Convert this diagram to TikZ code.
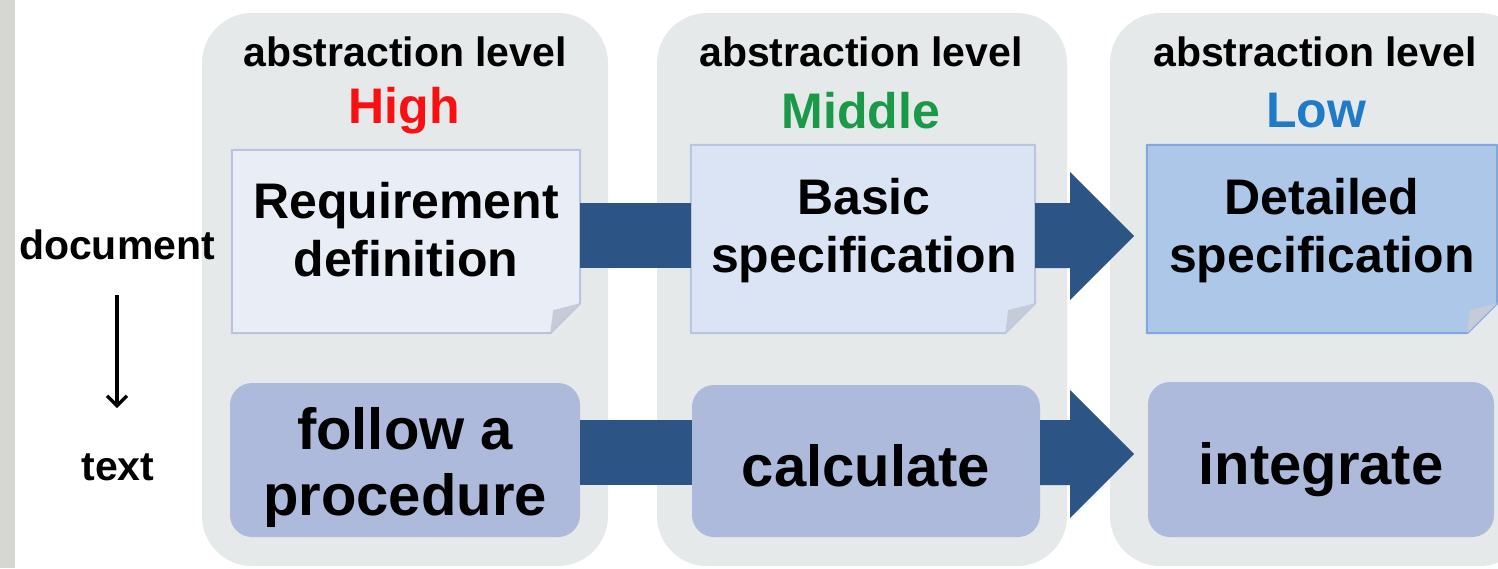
\documentclass[tikz,border=0pt]{standalone}
\usepackage{fontspec}
\setmainfont{Liberation Sans}
\usetikzlibrary{calc,arrows.meta}
\definecolor{stripc}{HTML}{D6D6D2}
\definecolor{panelc}{HTML}{E6E9EA}
\definecolor{docAfill}{HTML}{E9EDF6}
\definecolor{docAline}{HTML}{B9C3E0}
\definecolor{docBfill}{HTML}{DAE4F4}
\definecolor{docBline}{HTML}{B9C6DD}
\definecolor{docCfill}{HTML}{ADC7E8}
\definecolor{docCline}{HTML}{7FA8DC}
\definecolor{foldc}{HTML}{C5CCD8}
\definecolor{taskc}{HTML}{AEBADC}
\definecolor{barc}{HTML}{2C5585}
\definecolor{highc}{HTML}{FA1010}
\definecolor{midc}{HTML}{1A9A48}
\definecolor{lowc}{HTML}{1F7BC8}
\newcommand\mydocshape[3]{%
  \filldraw[fill=#2,draw=#3,line width=2pt,line join=round]
    (#1.north west) -- (#1.north east) -- ([yshift=30pt]#1.south east)
    -- ([xshift=-30pt]#1.south east) -- (#1.south west) -- cycle;
  \fill[foldc] ([yshift=30pt]#1.south east) -- ([xshift=-30pt]#1.south east)
    -- ([xshift=-27pt,yshift=23pt]#1.south east) -- cycle;}
\begin{document}
\begin{tikzpicture}[x=1pt,y=-1pt,
  txt/.style={font=\bfseries\fontsize{41pt}{48pt}\selectfont, inner sep=0pt},
  lvl/.style={font=\bfseries\fontsize{50pt}{58pt}\selectfont, inner sep=0pt},
  doctxt/.style={font=\bfseries\fontsize{50pt}{58pt}\selectfont, inner sep=0pt, align=center},
  boxarea/.style={inner sep=0pt, draw=none},
  taskbox/.style={fill=taskc, rounded corners=22pt, inner sep=0pt, align=center,
     font=\bfseries\fontsize{58pt}{66pt}\selectfont},
  panel/.style={fill=panelc, rounded corners=50pt}]
\useasboundingbox (0,0) rectangle (1498,568);
\fill[stripc] (0,0) rectangle (15,568);
% panels
\fill[panel] (202,13) rectangle (608,566);
\fill[panel] (657,13) rectangle (1067,566);
\fill[panel] (1110,13) rectangle (1530,566);
% titles
\node[txt] (t1) at (405,52) {abstraction level};
\node[txt] (t2) at (861,52) {abstraction level};
\node[txt] (t3) at (1315,52) {abstraction level};
\node[lvl, text=highc] (h) at (404,111) {High};
\node[lvl, text=midc] (m) at (861,111) {Middle};
\node[lvl, text=lowc] (l) at (1316,111) {Low};
% document boxes
\node[boxarea, minimum width=348pt, minimum height=183pt] (req) at (406,241.5) {};
\node[boxarea, minimum width=344pt, minimum height=188pt] (basic) at (863,239) {};
\node[boxarea, minimum width=350pt, minimum height=188pt] (detail) at (1322,239) {};
\mydocshape{req}{docAfill}{docAline}
\mydocshape{basic}{docBfill}{docBline}
\mydocshape{detail}{docCfill}{docCline}
\node[doctxt] (reqt) at (406,230) {Requirement\\definition};
\node[doctxt] (basict) at (864,231) {Basic\\specification};
\node[doctxt] (detailt) at (1322,231) {Detailed\\specification};
% task boxes
\node[taskbox, minimum width=350pt, minimum height=154pt] (follow) at (405,460) {};
\node[taskbox, minimum width=348pt, minimum height=152pt] (calc) at (866,461) {};
\node[taskbox, minimum width=346pt, minimum height=155pt] (integ) at (1321,459.5) {};
\node[taskbox, fill=none] (followt) at (405,467) {follow a\\procedure};
\node[taskbox, fill=none] (calct) at (866,466) {calculate};
\node[taskbox, fill=none] (integt) at (1321,470) {integrate};
% block arrows
\fill[barc] (req.east |- 0,203) rectangle (basic.west |- 0,268);
\fill[barc] (basic.east |- 0,203) -- (1070,203) -- (1070,172) -- (1134,236)
  -- (1070,300) -- (1070,268) -- (basic.east |- 0,268) -- cycle;
\fill[barc] (follow.east |- 0,420) rectangle (calc.west |- 0,485);
\fill[barc] (calc.east |- 0,420) -- (1070,420) -- (1070,390) -- (1134,454)
  -- (1070,518) -- (1070,485) -- (calc.east |- 0,485) -- cycle;
% left labels
\node[txt] (docl) at (117,245) {document};
\node[txt] (textl) at (118,467) {text};
\draw[line width=3.5pt, -{Straight Barb[length=10pt,width=20pt,line width=3.5pt]},
  shorten <=35pt, shorten >=45pt] (docl.south) -- (docl.south |- textl.north);
\end{tikzpicture}
\end{document}
